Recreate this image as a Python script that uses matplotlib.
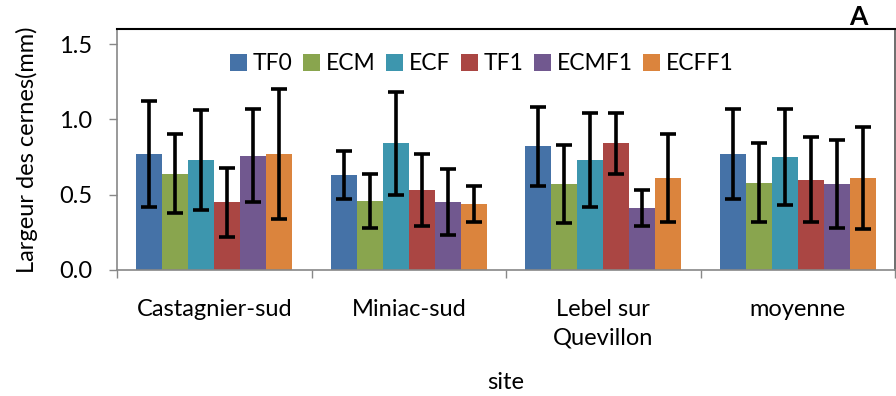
import matplotlib
matplotlib.use("Agg")
import matplotlib.pyplot as plt
import numpy as np

plt.rcParams['font.family'] = ['Lato', 'DejaVu Sans']

sites = ["Castagnier-sud", "Miniac-sud", "Lebel sur\nQuevillon", "moyenne"]
series = ["TF0", "ECM", "ECF", "TF1", "ECMF1", "ECFF1"]
colors = ["#4572A7", "#89A54E", "#3D96AE", "#AA4643", "#71588F", "#DB843D"]

# mean ring width per site (rows = series, columns = sites)
tf0 = [0.77, 0.63, 0.82, 0.77]
ecm = [0.64, 0.46, 0.57, 0.58]
ecf = [0.73, 0.84, 0.73, 0.75]
tf1 = [0.45, 0.53, 0.84, 0.60]
ecmf1 = [0.76, 0.45, 0.41, 0.57]
ecff1 = [0.77, 0.44, 0.61, 0.61]

# standard deviations
tf0_sd = [0.35, 0.16, 0.26, 0.30]
ecm_sd = [0.26, 0.18, 0.26, 0.26]
ecf_sd = [0.33, 0.34, 0.31, 0.32]
tf1_sd = [0.23, 0.24, 0.20, 0.28]
ecmf1_sd = [0.31, 0.22, 0.12, 0.29]
ecff1_sd = [0.43, 0.12, 0.29, 0.34]

means = [tf0, ecm, ecf, tf1, ecmf1, ecff1]
sds = [tf0_sd, ecm_sd, ecf_sd, tf1_sd, ecmf1_sd, ecff1_sd]

fig = plt.figure(figsize=(8.96, 3.96), dpi=100)
ax = fig.add_axes([117 / 896, 1 - 270 / 396, (895 - 117) / 896, (270 - 29) / 396])

n = len(series)
width = 0.8 / n
x0 = np.arange(len(sites)) + 0.1
for i, (name, vals, err, c) in enumerate(zip(series, means, sds, colors)):
    xs = x0 + width * (i + 0.5)
    ax.bar(xs, vals, width=width, color=c, label=name, zorder=2)
    ax.errorbar(xs, vals, yerr=err, fmt="none", ecolor="black",
                elinewidth=2.6, capsize=6, capthick=2.6, zorder=3)

ax.set_xlim(0, len(sites))
ax.set_ylim(0, 1.6)
ax.set_yticks([0.0, 0.5, 1.0, 1.5])
ax.set_yticklabels(["0.0", "0.5", "1.0", "1.5"])
ax.set_xticks(np.arange(len(sites) + 1))
ax.set_xticklabels([])
ax.set_xticks(np.arange(len(sites)) + 0.5, minor=True)
ax.set_xticklabels(sites, minor=True, fontsize=17, linespacing=1.45)
ax.tick_params(axis="x", which="minor", length=0, pad=21)
ax.tick_params(axis="x", which="major", length=6, width=1, color="#888888")
ax.tick_params(axis="y", length=6, width=1, color="#888888", labelsize=17, pad=12)

for side in ["left", "bottom"]:
    ax.spines[side].set_color("#888888")
    ax.spines[side].set_linewidth(1.2)
ax.spines["top"].set_color("black")
ax.spines["top"].set_linewidth(1.5)
ax.spines["right"].set_color("#555555")
ax.spines["right"].set_linewidth(1.2)

ax.set_ylabel("Largeur des cernes(mm)", fontsize=17, labelpad=15)
ax.set_xlabel("site", fontsize=17, labelpad=17)

ax.legend(loc="center", bbox_to_anchor=(482 / 896, 1 - 64 / 396),
          bbox_transform=fig.transFigure, ncol=6, frameon=False,
          fontsize=16.5, handlelength=0.75, handleheight=0.75, handletextpad=0.25,
          columnspacing=0.45, borderaxespad=0, borderpad=0)

fig.text(858 / 896, 1 - 29 / 396, "A", fontsize=19, fontweight="bold",
         ha="center", va="bottom")

fig.savefig("out.png", dpi=100)
